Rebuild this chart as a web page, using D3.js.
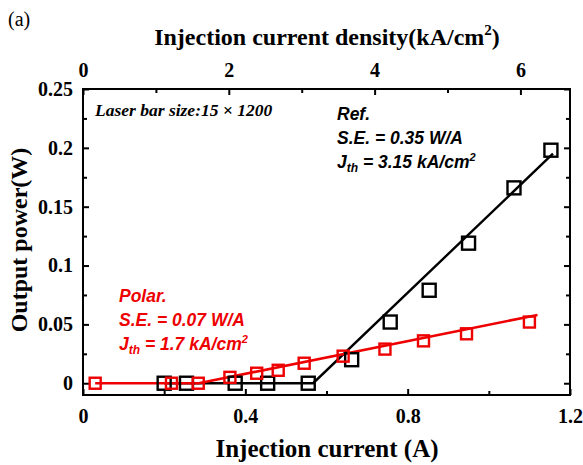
<!DOCTYPE html>
<html>
<head>
<meta charset="utf-8">
<script src="https://cdn.jsdelivr.net/npm/d3@7"></script>
<style>
  body { margin: 0; background: #fff; }
  svg { display: block; }
</style>
</head>
<body>
<div id="chart"></div>
<script>
// measured data (injection current A, output power W)
const refCurrent = [0.20, 0.255, 0.375, 0.455, 0.555, 0.662, 0.757, 0.853, 0.950, 1.062, 1.153];
const refPower   = [0, 0, 0, 0, 0, 0.020, 0.052, 0.079, 0.119, 0.166, 0.198];
const polCurrent = [0.03, 0.218, 0.284, 0.362, 0.428, 0.481, 0.545, 0.641, 0.744, 0.839, 0.945, 1.10];
const polPower   = [0, 0, 0, 0.005, 0.0085, 0.011, 0.017, 0.023, 0.029, 0.036, 0.042, 0.052];
// linear fits
const refFitCurrent = [0.20, 0.567, 1.158];
const refFitPower   = [0, 0, 0.195];
const polFitCurrent = [0.03, 0.285, 1.12];
const polFitPower   = [0, 0, 0.058];
// ticks
const xTicks = [0, 0.4, 0.8, 1.2];
const xMinor = [0.2, 0.6, 1.0];
const topTicks = [0, 2, 4, 6];
const topMinor = [1, 3, 5];
const yTicks = [0, 0.05, 0.1, 0.15, 0.2, 0.25];
const yMinor = [0.025, 0.075, 0.125, 0.175, 0.225];

const iWidth = 583, iHeight = 465;
const oMargin = { top: 89, right: 13, bottom: 70, left: 83 };
const iInnerW = iWidth - oMargin.left - oMargin.right;
const iInnerH = iHeight - oMargin.top - oMargin.bottom;

const d3Svg = d3.select("#chart").append("svg")
  .attr("width", iWidth).attr("height", iHeight);

const x = d3.scaleLinear().domain([0, 1.2]).range([0, iInnerW]);
const xTop = d3.scaleLinear().domain([0, 6.68]).range([0, iInnerW]);
const y = d3.scaleLinear().domain([-0.01, 0.25]).range([iInnerH, 0]);

const g = d3Svg.append("g").attr("transform", `translate(${oMargin.left},${oMargin.top})`);

const sSerif = "'Liberation Serif', 'Times New Roman', serif";
const sSans = "'Liberation Sans', Arial, sans-serif";
const sRed = "#ee0000";

// axes, ticks inward
function styleAxis(a) {
  a.select(".domain").remove();
  a.selectAll("line").attr("stroke", "#000").attr("stroke-width", 2);
  a.selectAll("text").attr("font-family", sSerif).attr("font-weight", "bold")
    .attr("font-size", "20px").attr("fill", "#000");
}
g.append("g").attr("transform", `translate(0,${iInnerH})`)
  .call(d3.axisBottom(x).tickValues(xTicks).tickSize(-6).tickPadding(14).tickFormat(d => d === 0 ? "0" : d3.format(".1f")(d)))
  .call(styleAxis);
g.append("g").attr("transform", `translate(0,${iInnerH})`)
  .call(d3.axisBottom(x).tickValues(xMinor).tickSize(-4).tickFormat(""))
  .call(styleAxis);
g.append("g")
  .call(d3.axisTop(xTop).tickValues(topTicks).tickSize(-6).tickPadding(12).tickFormat(d3.format("d")))
  .call(styleAxis);
g.append("g")
  .call(d3.axisTop(xTop).tickValues(topMinor).tickSize(-4).tickFormat(""))
  .call(styleAxis);
g.append("g")
  .call(d3.axisLeft(y).tickValues(yTicks).tickSize(-6).tickPadding(10).tickFormat(d => d === 0 ? "0" : String(d)))
  .call(styleAxis);
g.append("g")
  .call(d3.axisLeft(y).tickValues(yMinor).tickSize(-4).tickFormat(""))
  .call(styleAxis);
g.append("g").attr("transform", `translate(${iInnerW},0)`)
  .call(d3.axisRight(y).tickValues(yTicks).tickSize(-6).tickFormat(""))
  .call(styleAxis);
g.append("g").attr("transform", `translate(${iInnerW},0)`)
  .call(d3.axisRight(y).tickValues(yMinor).tickSize(-4).tickFormat(""))
  .call(styleAxis);

// frame
g.append("rect").attr("width", iInnerW).attr("height", iInnerH)
  .attr("fill", "none").attr("stroke", "#000").attr("stroke-width", 2);

// fit lines
const line = d3.line().x(d => x(d[0])).y(d => y(d[1]));
g.append("path").datum(d3.zip(refFitCurrent, refFitPower))
  .attr("d", line).attr("fill", "none").attr("stroke", "#000").attr("stroke-width", 2.4);
g.append("path").datum(d3.zip(polFitCurrent, polFitPower))
  .attr("d", line).attr("fill", "none").attr("stroke", sRed).attr("stroke-width", 2.6);

// markers
function drawSquares(aX, aY, sColor, iSize) {
  g.append("g").selectAll("rect").data(d3.zip(aX, aY)).enter().append("rect")
    .attr("x", d => x(d[0]) - iSize / 2)
    .attr("y", d => y(d[1]) - iSize / 2)
    .attr("width", iSize).attr("height", iSize)
    .attr("fill", "none").attr("stroke", sColor).attr("stroke-width", 2.4);
}
drawSquares(refCurrent, refPower, "#000", 13);
drawSquares(polCurrent, polPower, sRed, 11);

// titles
d3Svg.append("text").attr("x", 8).attr("y", 26).text("(a)")
  .attr("font-family", sSerif).attr("font-size", "20px").attr("fill", "#000");
const tTop = d3Svg.append("text").attr("x", 327).attr("y", 45).attr("text-anchor", "middle")
  .attr("font-family", sSerif).attr("font-weight", "bold").attr("font-size", "24px").attr("fill", "#000");
tTop.append("tspan").text("Injection current density(kA/cm");
tTop.append("tspan").text("2").attr("font-size", "15px").attr("dy", -10);
tTop.append("tspan").text(")").attr("dy", 10);
d3Svg.append("text").attr("x", 327).attr("y", 457).attr("text-anchor", "middle")
  .text("Injection current (A)")
  .attr("font-family", sSerif).attr("font-weight", "bold").attr("font-size", "25px").attr("fill", "#000");
d3Svg.append("text").attr("transform", "translate(27,240) rotate(-90)").attr("text-anchor", "middle")
  .text("Output power(W)")
  .attr("font-family", sSerif).attr("font-weight", "bold").attr("font-size", "24px").attr("fill", "#000");

// annotations
d3Svg.append("text").attr("x", 95).attr("y", 116).text("Laser bar size:15 \u00d7 1200")
  .attr("font-family", sSerif).attr("font-weight", "bold").attr("font-style", "italic")
  .attr("font-size", "17.5px").attr("fill", "#000");

function annot(iX, iY, sName, sSE, sJ, sColor) {
  const t = d3Svg.append("g").attr("font-family", sSans).attr("font-weight", "bold")
    .attr("font-style", "italic").attr("font-size", "17.5px").attr("fill", sColor);
  t.append("text").attr("x", iX).attr("y", iY).text(sName);
  t.append("text").attr("x", iX).attr("y", iY + 24).text(sSE);
  const tj = t.append("text").attr("x", iX).attr("y", iY + 48);
  tj.append("tspan").text("J");
  tj.append("tspan").text("th").attr("font-size", "12px").attr("dy", 4);
  tj.append("tspan").text(" = " + sJ + " kA/cm").attr("dy", -4);
  tj.append("tspan").text("2").attr("font-size", "11px").attr("dy", -7);
}
annot(337, 120, "Ref.", "S.E. = 0.35 W/A", "3.15", "#000");
annot(119, 302, "Polar.", "S.E. = 0.07 W/A", "1.7", sRed);
</script>
</body>
</html>
